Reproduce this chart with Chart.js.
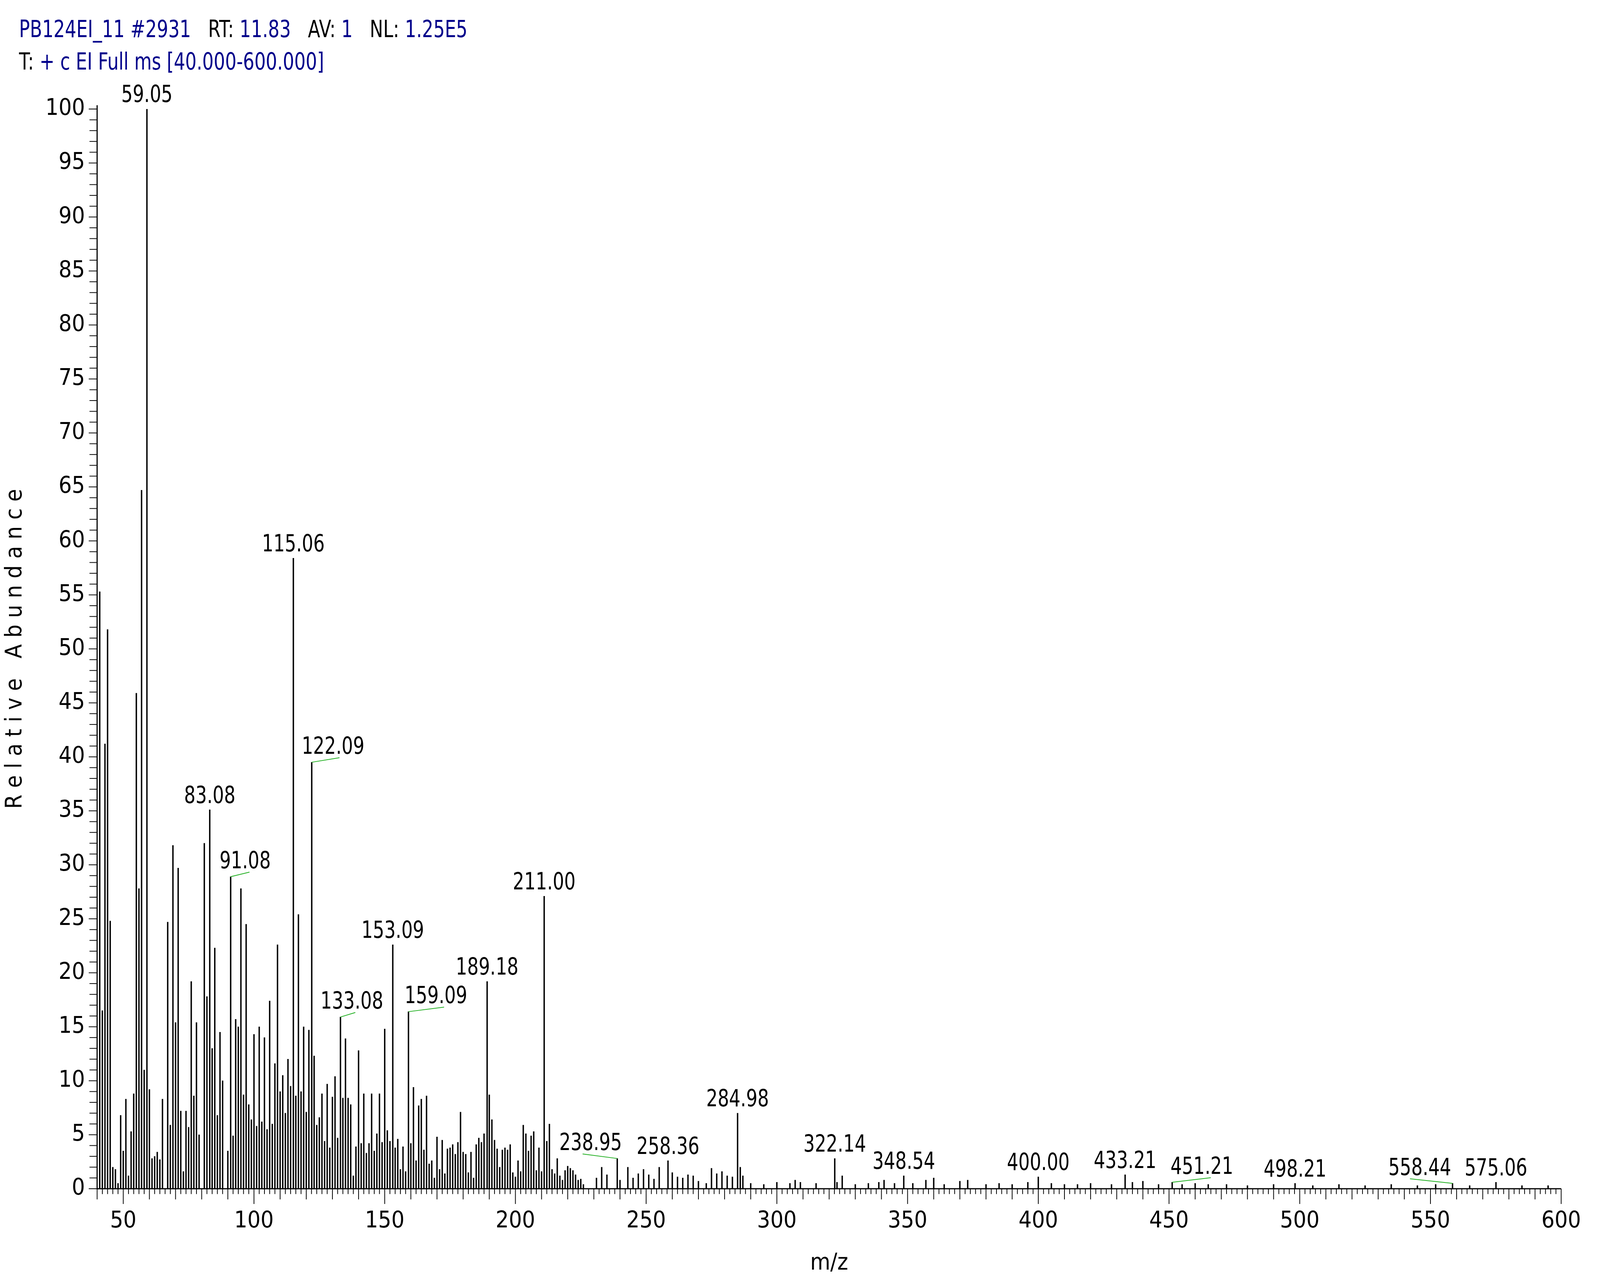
<!DOCTYPE html>
<html><head><meta charset="utf-8">
<script src="https://cdn.jsdelivr.net/npm/chart.js@4/dist/chart.umd.min.js"></script>
<style>html,body{margin:0;padding:0;background:#fff;overflow:hidden}canvas{display:block}</style>
</head><body>
<canvas id="c"></canvas>
<script>
const mzValues = [41,42,43,44,45,46,47,48,49,50,51,52,53,54,55,56,57,58,59.05,60,61,62,63,64,65,67,68,69,70,71,72,73,74,75,76,77,78,79,81,82,83.08,84,85,86,87,88,90,91.08,92,93,94,95,96,97,98,99,100,101,102,103,104,105,106,107,108,109,110,111,112,113,114,115.06,116,117,118,119,120,121,122.09,123,124,125,126,127,128,129,130,131,132,133.08,134,135,136,137,138,139,140,141,142,143,144,145,146,147,148,149,150,151,152,153.09,154,155,156,157,158,159.09,160,161,162,163,164,165,166,167,168,169,170,171,172,173,174,175,176,177,178,179,180,181,182,183,184,185,186,187,188,189.18,190,191,192,193,194,195,196,197,198,199,200,201,202,203,204,205,206,207,208,209,210,211.00,212,213,214,215,216,217,218,219,220,221,222,223,224,225,226,231,233,235,238.95,240,243,245,247,249,251,253,255,258.36,260,262,264,266,268,270,273,275,277,279,281,283,284.98,286,287,290,295,300,305,307,309,315,322.14,323,325,330,335,339,341,345,348.54,352,357,360,364,370,373,380,385,390,396,400.00,405,410,415,420,428,433.21,436,440,446,451.21,455,460,465,472,480,490,498.21,505,515,525,535,545,552,558.44,565,575.06,585,595];
const abundance = [55.3,16.5,41.2,51.8,24.8,2,1.8,0.5,6.8,3.5,8.3,1.2,5.3,8.8,45.9,27.8,64.7,11,100,9.2,2.8,3,3.4,2.7,8.3,24.7,5.9,31.8,15.4,29.7,7.2,1.6,7.2,5.7,19.2,8.6,15.4,5,32,17.8,35.1,13,22.3,6.8,14.5,10,3.5,28.9,4.9,15.7,15,27.8,8.7,24.5,7.8,6.4,14.3,5.8,15,6.2,14,5.5,17.4,6,11.6,22.6,9,10.5,7,12,9.5,58.4,8.6,25.4,9,15,7.1,14.7,39.5,12.3,5.9,6.6,8.8,4.4,9.7,3.8,8.5,10.4,4.7,15.9,8.4,13.9,8.4,7.8,1.2,3.9,12.8,4.2,8.8,3.3,4.2,8.8,3.5,5.1,8.8,4.3,14.8,5.4,4.4,22.6,3.8,4.6,1.8,3.9,1.6,16.4,4.2,9.4,2.6,7.7,8.3,3.6,8.6,2.3,2.6,1,4.8,1.8,4.5,1.4,3.7,3.8,4.1,3.2,4.3,7.1,3.4,3.2,1.5,3.4,1,4.1,4.7,4.3,5.1,19.2,8.7,6.4,4.5,3.7,2,3.6,3.8,3.6,4.1,1.5,1.1,2.6,1.6,5.9,5.1,3.5,4.9,5.3,1.7,3.8,1.6,27.1,4.4,6,1.8,1.4,2.8,1.2,0.8,1.7,2.1,1.9,1.7,1.3,0.8,0.9,0.4,1,2,1.3,2.8,0.8,2,1,1.4,1.8,1.3,0.9,2,2.6,1.5,1.1,1,1.3,1.2,0.7,0.5,1.9,1.4,1.6,1.2,1.1,7,2,1.2,0.5,0.4,0.6,0.5,0.8,0.6,0.5,2.8,0.6,1.2,0.4,0.5,0.6,0.8,0.5,1.2,0.5,0.8,1,0.4,0.7,0.8,0.4,0.5,0.4,0.6,1.1,0.5,0.4,0.4,0.5,0.4,1.3,0.6,0.7,0.4,0.6,0.4,0.5,0.4,0.4,0.3,0.4,0.5,0.3,0.4,0.3,0.4,0.3,0.4,0.5,0.3,0.6,0.3,0.3];
const peakLabels = ["59.05","115.06","83.08","122.09","91.08","133.08","153.09","159.09","189.18","211.00","238.95","258.36","284.98","322.14","348.54","400.00","433.21","451.21","498.21","558.44","575.06"];
const labelShift = [0,0,0,56,38,30,0,72,0,0,-70,0,0,0,0,0,0,78,0,-86,0];
const xTicksStep = 50, yTicksStep = 5;

const W = window.innerWidth || 4201, H = window.innerHeight || 3273;
const cv = document.getElementById('c');
cv.width = W; cv.height = H;
const sx = W/4201, sy = H/3273, s = Math.min(sx, sy);

const F = '"Liberation Sans Narrow","DejaVu Sans Condensed","Liberation Sans",Arial,sans-serif';
const data = mzValues.map((x,i)=>({x, y: abundance[i]}));

function narrowText(ctx, t, x, y, align){
  const k = 0.85, w = ctx.measureText(t).width*k;
  ctx.save(); ctx.translate(x - (align==='center'?w/2:0), y); ctx.scale(k,1);
  ctx.textAlign='left'; ctx.fillText(t,0,0); ctx.restore();
  return w;
}

const decor = {
  id:'decor',
  afterDraw(chart){
    const ctx = chart.ctx, xs = chart.scales.x, ys = chart.scales.y, a = chart.chartArea;
    ctx.save();
    ctx.textBaseline='alphabetic';
    ctx.font = Math.round(62*s)+'px '+F;
    let xx = 50*sx;
    const parts1 = [['PB124EI_11 #2931','#00008b'],['   RT: ','#000'],['11.83','#00008b'],['   AV: ','#000'],['1','#00008b'],['   NL: ','#000'],['1.25E5','#00008b']];
    for (const [t,c] of parts1){ ctx.fillStyle=c; xx += narrowText(ctx,t,xx,95*sy,'left'); }
    xx=50*sx;
    for (const [t,c] of [['T: ','#000'],['+ c EI Full ms [40.000-600.000]','#00008b']]){ ctx.fillStyle=c; xx += narrowText(ctx,t,xx,178*sy,'left'); }
    ctx.strokeStyle='#000'; ctx.lineWidth=3*s;
    ctx.beginPath(); ctx.moveTo(a.left,a.top-10*s); ctx.lineTo(a.left,a.bottom); ctx.lineTo(a.right,a.bottom); ctx.stroke();
    ctx.lineWidth=2*s;
    for (let v=0; v<=100; v++){
      const y = ys.getPixelForValue(v);
      const L = (v%5===0?22:20)*s;
      ctx.beginPath(); ctx.moveTo(a.left-L,y); ctx.lineTo(a.left,y); ctx.stroke();
    }
    for (let v=40; v<=600; v+=2){
      const x = xs.getPixelForValue(v);
      const L = (v%50===0?40:(v%10===0?28:14))*s;
      ctx.beginPath(); ctx.moveTo(x,a.bottom); ctx.lineTo(x,a.bottom+L); ctx.stroke();
    }
    ctx.font=Math.round(62*s)+'px '+F; ctx.fillStyle='#000';
    peakLabels.forEach((lab,i)=>{
      const m = parseFloat(lab);
      const idx = mzValues.findIndex(v=>Math.abs(v-m)<0.01);
      const px = xs.getPixelForValue(m), py = ys.getPixelForValue(abundance[idx]);
      const dx = labelShift[i]*sx;
      if (dx!==0){
        ctx.strokeStyle='#22b022'; ctx.lineWidth=2*s;
        ctx.beginPath(); ctx.moveTo(px,py); ctx.lineTo(px+dx*1.3, py-12*s); ctx.stroke();
        narrowText(ctx, lab, px+dx, py-22*s, 'center');
      } else {
        narrowText(ctx, lab, px, py-18*s, 'center');
      }
    });
    ctx.restore();
  }
};

new Chart(cv, {
  type:'bar',
  data:{datasets:[{data, backgroundColor:'#000', barThickness:Math.max(2,3*s), borderWidth:0}]},
  options:{
    responsive:false, devicePixelRatio:1, animation:false,
    layout:{padding:{left:0,top:279*sy,right:74*sx,bottom:0}},
    plugins:{legend:{display:false},tooltip:{enabled:false}},
    scales:{
      x:{type:'linear',min:40,max:600,offset:false,
         grid:{display:false,drawTicks:false}, border:{display:false},
         afterBuildTicks:sc=>{sc.ticks=[];for(let v=50;v<=600;v+=xTicksStep)sc.ticks.push({value:v});},
         ticks:{font:{size:Math.round(60*s),family:F},color:'#000',padding:50*s,maxRotation:0,autoSkip:false},
         title:{display:true,text:'m/z',font:{size:Math.round(60*s),family:F},color:'#000',padding:{top:0}},
         afterFit:sc=>{sc.height=231*sy;}},
      y:{min:0,max:100,
         grid:{display:false,drawTicks:false}, border:{display:false},
         ticks:{stepSize:yTicksStep,font:{size:Math.round(60*s),family:F},color:'#000',padding:32*s},
         title:{display:true,text:'R e l a t i v e   A b u n d a n c e',font:{size:Math.round(60*s),family:F},color:'#000',padding:{bottom:0}},
         afterFit:sc=>{sc.width=255*sx;}}
    }
  },
  plugins:[decor]
});
</script>
</body></html>
